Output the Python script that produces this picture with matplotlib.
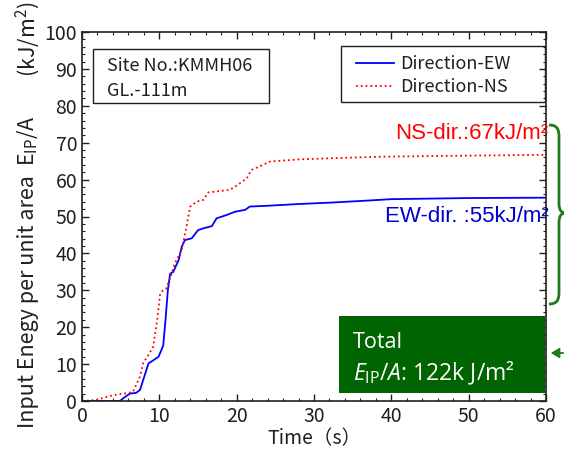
import numpy as np
import matplotlib
matplotlib.use("Agg")
import matplotlib.pyplot as plt
from matplotlib.path import Path
from matplotlib.patches import PathPatch, Rectangle, FancyArrowPatch

plt.rcParams['font.family'] = ['Noto Sans CJK JP', 'DejaVu Sans']
plt.rcParams['mathtext.default'] = 'regular'
plt.rcParams['mathtext.fontset'] = 'custom'
plt.rcParams['mathtext.rm'] = 'Open Sans'
plt.rcParams['mathtext.it'] = 'Open Sans:italic'

# cumulative input energy, EW direction
t_ew = [0, 4.9, 5.5, 6.2, 7.0, 7.5, 7.7, 8.6, 9.2, 9.9, 10.5, 10.8, 11.1, 11.4,
        11.8, 12.5, 12.9, 13.3, 14.2, 15.0, 15.7, 16.8, 17.4, 18.7, 19.8, 21.1,
        21.7, 23.9, 28.2, 32.5, 36.8, 40.0, 50.0, 60.0]
v_ew = [0, 0, 1.0, 2.0, 2.2, 3.0, 4.3, 10.2, 11.0, 12.0, 15.0, 22.0, 30.0, 34.5,
        35.0, 38.2, 41.8, 43.6, 44.1, 46.3, 46.8, 47.4, 49.5, 50.4, 51.3, 51.8,
        52.7, 52.9, 53.4, 53.8, 54.3, 54.7, 55.0, 55.1]

# cumulative input energy, NS direction
t_ns = [0, 1.9, 3.0, 4.1, 5.8, 6.6, 7.5, 7.9, 8.6, 9.2, 9.7, 10.1, 10.5, 10.9,
        11.6, 12.0, 12.9, 13.5, 14.0, 14.8, 15.7, 16.3, 17.8, 19.1, 19.8, 21.3,
        21.9, 23.2, 24.3, 28.2, 32.5, 38.5, 50.0, 60.0]
v_ns = [0, 0.3, 1.0, 1.6, 2.1, 2.5, 6.6, 10.2, 12.5, 14.7, 21.5, 29.0, 30.1, 30.5,
        34.6, 37.3, 40.9, 47.2, 52.7, 54.0, 54.5, 56.5, 56.9, 57.2, 58.1, 60.3,
        62.6, 63.8, 64.9, 65.5, 65.8, 66.2, 66.5, 66.7]

W, H = 564, 450
ink = '#231f20'
fig = plt.figure(figsize=(W / 100, H / 100), dpi=100)
ax = fig.add_axes([82 / W, 1 - 401 / H, (546 - 82) / W, (401 - 32) / H])

ax.plot(t_ew, v_ew, color='#0000ff', lw=1.3, label='Direction-EW')
ax.plot(t_ns, v_ns, color='#ff0000', lw=1.3, ls=':', label='Direction-NS')

ax.set_xlim(0, 60)
ax.set_ylim(0, 100)
ax.set_xticks(np.arange(0, 61, 10))
ax.set_yticks(np.arange(0, 101, 10))
ax.set_xticks(np.arange(0, 61, 2), minor=True)
ax.set_yticks(np.arange(0, 101, 2), minor=True)
ax.tick_params(which='both', direction='in', top=True, right=True,
               colors=ink, labelsize=14)
ax.tick_params(which='major', length=5, width=1)
ax.tick_params(which='minor', length=2.5, width=0.8)
for s in ax.spines.values():
    s.set_color(ink)
    s.set_linewidth(1.2)

ax.set_xlabel('Time（s）', fontsize=14, color=ink, labelpad=1)

# y label in three pieces, spaced like the original
ylab_x = 28 / W
fig.text(ylab_x, 1 - 302 / H, 'Input Enegy per unit area', rotation=90,
         ha='center', va='center', fontsize=15.5, color=ink)
fig.text(ylab_x, 1 - 141 / H, 'E$_{IP}$/A', rotation=90,
         ha='center', va='center', fontsize=15.5, color=ink)
fig.text(ylab_x, 1 - 39 / H, '(kJ/m$^{2}$)', rotation=90,
         ha='center', va='center', fontsize=15.5, color=ink)

# legend with a hand-placed frame
leg = ax.legend(loc='upper left', bbox_to_anchor=((356 - 82) / 464, (401 - 55) / 369),
                fontsize=13, frameon=False, handlelength=2.1, borderpad=0,
                borderaxespad=0, labelspacing=0.3, handletextpad=0.35)
for txt in leg.get_texts():
    txt.set_color(ink)
ax.add_patch(Rectangle(((341 - 82) / 464, (401 - 102) / 369), (545 - 341) / 464,
                       (102 - 46) / 369, transform=ax.transAxes, fc='none',
                       ec=ink, lw=1.0, zorder=4))

# site box
ax.add_patch(Rectangle(((93 - 82) / 464, (401 - 103) / 369), (269 - 93) / 464,
                       (103 - 49) / 369, transform=ax.transAxes, fc='white',
                       ec=ink, lw=1.0, zorder=4))
ax.text((107 - 82) / 464, (401 - 66) / 369, 'Site No.:KMMH06', transform=ax.transAxes,
        fontsize=13, color=ink, va='center', ha='left', zorder=5)
ax.text((107 - 82) / 464, (401 - 91) / 369, 'GL.-111m', transform=ax.transAxes,
        fontsize=13, color=ink, va='center', ha='left', zorder=5)

ax.text(1.005, 0.725, 'NS-dir.:67kJ/m²', transform=ax.transAxes, ha='right',
        va='center', fontsize=16, color='#ff0000', family='Liberation Sans')
ax.text(1.005, 0.500, 'EW-dir. :55kJ/m²', transform=ax.transAxes, ha='right',
        va='center', fontsize=16, color='#0000cc', family='Liberation Sans')

# green summary box
green = '#006400'
fig.patches.append(Rectangle((339 / W, 1 - 393 / H), (545 - 339) / W, (393 - 316) / H,
                             transform=fig.transFigure, fc=green, ec='none', zorder=5))
fig.text(353 / W, 1 - 342 / H, 'Total', color='white', fontsize=15.5,
         family='Open Sans', va='center', ha='left', zorder=6)
fig.text(353 / W, 1 - 373 / H, r'$\mathit{E}_{\rm IP}/\mathit{A}$: 122k J/m²',
         color='white', fontsize=16.5, family='Open Sans', va='center', ha='left',
         zorder=6)

# brace on the right
px = [(549, 125), (557, 125), (559, 129), (559, 137), (559, 203),
      (559, 210), (561, 213), (566, 213), (561, 213), (559, 216), (559, 223),
      (559, 292), (559, 300), (557, 304), (549, 304)]
codes = [Path.MOVETO, Path.CURVE4, Path.CURVE4, Path.CURVE4, Path.LINETO,
         Path.CURVE4, Path.CURVE4, Path.CURVE4, Path.CURVE4, Path.CURVE4, Path.CURVE4,
         Path.LINETO, Path.CURVE4, Path.CURVE4, Path.CURVE4]
verts = [(x / W, 1 - y / H) for x, y in px]
fig.patches.append(PathPatch(Path(verts, codes), transform=fig.transFigure,
                             fc='none', ec='#1e7b1e', lw=2.0))

# arrow pointing to the axis
fig.patches.append(FancyArrowPatch(
    (566 / W, 1 - 353 / H), (548 / W, 1 - 353 / H), transform=fig.transFigure,
    arrowstyle='-|>,head_length=5,head_width=3', color='#1e7b1e', lw=1.3))

fig.savefig('out.png', dpi=100)
